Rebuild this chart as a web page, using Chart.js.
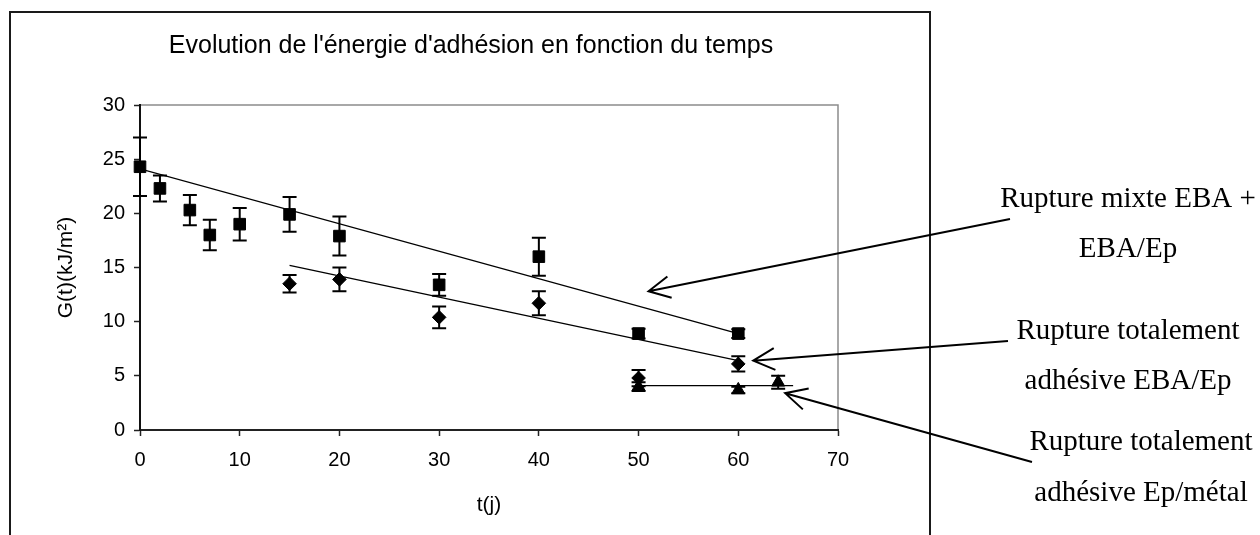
<!DOCTYPE html>
<html>
<head>
<meta charset="utf-8">
<title>Evolution de l'énergie d'adhésion</title>
<script src="https://cdn.jsdelivr.net/npm/chart.js@4.4.1/dist/chart.umd.min.js"></script>
<style>
  html, body { margin: 0; padding: 0; background: #fff; }
  #wrap { position: relative; width: 1260px; height: 535px; }
</style>
</head>
<body>
<div id="wrap"><canvas id="adhesionChart"></canvas></div>
<script>
// t (jours) / G(t) en kJ/m²
const mixteDays = [0, 2, 5, 7, 10, 15, 20, 30, 40, 50, 60];
const mixteG    = [24.3, 22.3, 20.3, 18.0, 19.0, 19.9, 17.9, 13.4, 16.0, 8.9, 8.9];
const mixteErr  = [2.7, 1.2, 1.4, 1.4, 1.5, 1.6, 1.8, 1.0, 1.75, 0.45, 0.4];

const ebaEpDays = [15, 20, 30, 40, 50, 60];
const ebaEpG    = [13.5, 13.9, 10.4, 11.7, 4.8, 6.1];
const ebaEpErr  = [0.8, 1.1, 1.0, 1.1, 0.75, 0.7];

const metalDays = [50, 60, 64];
const metalG    = [4.0, 3.7, 4.4];
const metalErr  = [0.4, 0.3, 0.6];

// courbes de tendance (extremites)
const mixteTrendDays = [0, 60];
const mixteTrendG    = [24.1, 8.9];
const ebaEpTrendDays = [15, 60];
const ebaEpTrendG    = [15.2, 6.4];
const metalTrendDays = [50, 65.5];
const metalTrendG    = [4.1, 4.1];

const xTicks = [0, 10, 20, 30, 40, 50, 60, 70];
const yTicks = [0, 5, 10, 15, 20, 25, 30];

const chartTitle = "Evolution de l'énergie d'adhésion en fonction du temps";
const xTitle = 't(j)';
const yTitle = 'G(t)(kJ/m²)';

// commentaires a droite + pointe de fleche (unites des axes)
const noteTexts = [
  ['Rupture mixte EBA +', 'EBA/Ep'],
  ['Rupture totalement', 'adhésive EBA/Ep'],
  ['Rupture totalement', 'adhésive Ep/métal']
];
const noteTipDays = [51, 61.5, 64.7];
const noteTipG    = [12.8, 6.4, 3.4];

const SANS = '"Liberation Sans", Arial, sans-serif';
const SERIF = '"Liberation Serif", "Times New Roman", serif';

const pts = (xs, ys) => xs.map((v, i) => ({ x: v, y: ys[i] }));

// cadre, bordure grise de la zone de trace, titre
const framePlugin = {
  id: 'frame',
  beforeDraw(chart) {
    const { ctx, chartArea: a } = chart;
    ctx.save();
    ctx.fillStyle = '#fff';
    ctx.fillRect(0, 0, chart.width, chart.height);
    ctx.strokeStyle = '#1a1a1a';
    ctx.lineWidth = 2;
    ctx.strokeRect(10, 12, 920, 540);
    ctx.strokeStyle = '#8c8c8c';
    ctx.lineWidth = 1.5;
    ctx.beginPath();
    ctx.moveTo(a.left, a.top);
    ctx.lineTo(a.right, a.top);
    ctx.lineTo(a.right, a.bottom);
    ctx.stroke();
    ctx.fillStyle = '#000';
    ctx.font = '25px ' + SANS;
    ctx.textAlign = 'center';
    ctx.textBaseline = 'middle';
    ctx.fillText(chartTitle, 471, 46);
    ctx.restore();
  }
};

// barres d'erreur
const errorBarPlugin = {
  id: 'errorBars',
  afterDatasetsDraw(chart) {
    const { ctx, scales: { x, y } } = chart;
    ctx.save();
    ctx.strokeStyle = '#000';
    ctx.lineWidth = 2;
    chart.data.datasets.forEach(ds => {
      if (!ds.errorBars) return;
      ds.data.forEach((p, i) => {
        const e = ds.errorBars[i];
        const px = x.getPixelForValue(p.x);
        const top = y.getPixelForValue(p.y + e);
        const bot = y.getPixelForValue(p.y - e);
        ctx.beginPath();
        ctx.moveTo(px, top); ctx.lineTo(px, bot);
        ctx.moveTo(px - 7, top); ctx.lineTo(px + 7, top);
        ctx.moveTo(px - 7, bot); ctx.lineTo(px + 7, bot);
        ctx.stroke();
      });
    });
    ctx.restore();
  }
};

// textes et fleches
const notesPlugin = {
  id: 'notes',
  afterDraw(chart) {
    const { ctx, scales: { x, y } } = chart;
    const place = [
      { cx: 1128, base: [207, 257], tail: [1010, 219] },
      { cx: 1128, base: [339, 389], tail: [1008, 341] },
      { cx: 1141, base: [450, 501], tail: [1032, 462] }
    ];
    ctx.save();
    ctx.fillStyle = '#000';
    ctx.strokeStyle = '#000';
    ctx.lineWidth = 2;
    ctx.font = '29px ' + SERIF;
    ctx.textAlign = 'center';
    ctx.textBaseline = 'alphabetic';
    noteTexts.forEach((lines, i) => {
      const p = place[i];
      lines.forEach((t, j) => ctx.fillText(t, p.cx, p.base[j]));
      const tx = x.getPixelForValue(noteTipDays[i]);
      const ty = y.getPixelForValue(noteTipG[i]);
      const ang = Math.atan2(p.tail[1] - ty, p.tail[0] - tx);
      const len = 24, spread = 0.47;
      ctx.beginPath();
      ctx.moveTo(p.tail[0], p.tail[1]);
      ctx.lineTo(tx, ty);
      ctx.moveTo(tx + len * Math.cos(ang - spread), ty + len * Math.sin(ang - spread));
      ctx.lineTo(tx, ty);
      ctx.lineTo(tx + len * Math.cos(ang + spread), ty + len * Math.sin(ang + spread));
      ctx.stroke();
    });
    ctx.restore();
  }
};

const trend = (xs, ys) => ({
  type: 'line',
  data: pts(xs, ys),
  borderColor: '#000',
  borderWidth: 1.3,
  pointRadius: 0,
  fill: false
});

const markers = (xs, ys, errs, style, radius) => ({
  type: 'scatter',
  data: pts(xs, ys),
  errorBars: errs,
  pointStyle: style,
  pointRadius: radius,
  backgroundColor: '#000',
  borderColor: '#000',
  borderWidth: 1,
  clip: false
});

new Chart(document.getElementById('adhesionChart'), {
  type: 'scatter',
  data: {
    datasets: [
      trend(mixteTrendDays, mixteTrendG),
      trend(ebaEpTrendDays, ebaEpTrendG),
      trend(metalTrendDays, metalTrendG),
      markers(mixteDays, mixteG, mixteErr, 'rect', 8.2),
      markers(ebaEpDays, ebaEpG, ebaEpErr, 'rectRot', 6.8),
      markers(metalDays, metalG, metalErr, 'triangle', 7.5)
    ]
  },
  options: {
    responsive: true,
    maintainAspectRatio: false,
    animation: false,
    events: [],
    layout: {
      autoPadding: false,
      padding: { left: 10, top: 105, right: 422, bottom: 0 }
    },
    plugins: {
      legend: { display: false },
      tooltip: { enabled: false },
      title: { display: false }
    },
    scales: {
      x: {
        type: 'linear',
        min: 0,
        max: 70,
        afterBuildTicks: s => { s.ticks = xTicks.map(v => ({ value: v })); },
        afterFit: s => { s.height = 105; },
        grid: { display: true, drawOnChartArea: false, drawTicks: true, tickLength: 6, tickColor: '#222', tickWidth: 1.5 },
        border: { display: true, color: '#222', width: 2 },
        ticks: { color: '#000', font: { size: 20, family: SANS }, padding: 12, maxRotation: 0 },
        title: { display: true, text: xTitle, color: '#000', font: { size: 21, family: SANS }, padding: { top: 0, bottom: 17 } }
      },
      y: {
        type: 'linear',
        min: 0,
        max: 30,
        afterBuildTicks: s => { s.ticks = yTicks.map(v => ({ value: v })); },
        afterFit: s => { s.width = 130; },
        grid: { display: true, drawOnChartArea: false, drawTicks: true, tickLength: 6, tickColor: '#222', tickWidth: 1.5 },
        border: { display: true, color: '#111', width: 2 },
        ticks: { color: '#000', font: { size: 20, family: SANS }, padding: 9 },
        title: { display: true, text: yTitle, color: '#000', font: { size: 21, family: SANS }, padding: { top: 44, bottom: 0 } }
      }
    }
  },
  plugins: [framePlugin, errorBarPlugin, notesPlugin]
});
</script>
</body>
</html>
